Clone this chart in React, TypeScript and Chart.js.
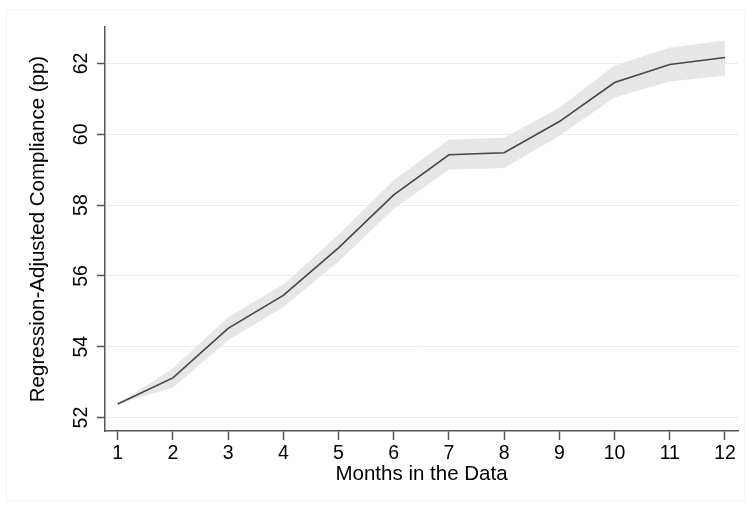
import React, { useEffect, useRef } from "react";
import { Chart, registerables } from "chart.js";

Chart.register(...registerables);

const months = [1, 2, 3, 4, 5, 6, 7, 8, 9, 10, 11, 12];
const estimate = [52.38, 53.12, 54.52, 55.45, 56.79, 58.29, 59.42, 59.48, 60.36, 61.46, 61.97, 62.17];
const upper = [52.38, 53.39, 54.83, 55.76, 57.16, 58.7, 59.85, 59.9, 60.75, 61.94, 62.45, 62.65];
const lower = [52.38, 52.85, 54.18, 55.12, 56.4, 57.9, 59.0, 59.05, 59.96, 61.04, 61.49, 61.66];
const yTicks = [52, 54, 56, 58, 60, 62];

const xTitle = "Months in the Data";
const yTitle = "Regression-Adjusted Compliance (pp)";

const FONT = "'Liberation Sans', Arial, Helvetica, sans-serif";
const AXIS = "#555555";
const GRID = "#e6eef0";

const framePlugin = {
  id: "frame",
  beforeDraw(chart: any) {
    const ctx = chart.ctx;
    ctx.save();
    ctx.fillStyle = "#ffffff";
    ctx.fillRect(0, 0, chart.width, chart.height);
    ctx.strokeStyle = "#f1f3f4";
    ctx.lineWidth = 1;
    ctx.strokeRect(6.5, 9.5, 738, 491);
    ctx.restore();
  },
};

export default function App() {
  const ref = useRef<HTMLCanvasElement | null>(null);

  useEffect(() => {
    if (!ref.current) return;
    const pts = (arr: number[]) => months.map((m, i) => ({ x: m, y: arr[i] }));
    const chart = new Chart(ref.current, {
      type: "line",
      data: {
        datasets: [
          {
            label: "upper",
            data: pts(upper),
            borderWidth: 0,
            borderColor: "rgba(0,0,0,0)",
            backgroundColor: "#e6e6e6",
            pointRadius: 0,
            fill: "+1",
            order: 2,
          },
          {
            label: "lower",
            data: pts(lower),
            borderWidth: 0,
            borderColor: "rgba(0,0,0,0)",
            backgroundColor: "#e6e6e6",
            pointRadius: 0,
            fill: false,
            order: 2,
          },
          {
            label: "estimate",
            data: pts(estimate),
            borderWidth: 1.6,
            borderColor: "#454545",
            pointRadius: 0,
            fill: false,
            tension: 0,
            order: 1,
          },
        ],
      },
      options: {
        animation: false,
        responsive: false,
        devicePixelRatio: 1,
        layout: { padding: { top: 27, right: 10, left: 0, bottom: 0 } },
        plugins: {
          legend: { display: false },
          tooltip: { enabled: false },
        },
        scales: {
          x: {
            type: "linear",
            min: 0.77,
            max: 12.236,
            afterBuildTicks: (scale: any) => {
              scale.ticks = months.map((v) => ({ value: v }));
            },
            afterFit: (scale: any) => {
              scale.height = 75;
            },
            grid: {
              drawOnChartArea: false,
              drawTicks: true,
              tickLength: 9,
              tickColor: AXIS,
              tickWidth: 1.5,
            },
            border: { display: true, color: AXIS, width: 1.5 },
            ticks: {
              autoSkip: false,
              padding: 2,
              color: "#000",
              font: { family: FONT, size: 19.5 },
            },
            title: {
              display: true,
              text: xTitle,
              color: "#000",
              font: { family: FONT, size: 20.5 },
              padding: { top: 0, bottom: 19 },
            },
          },
          y: {
            type: "linear",
            min: 51.62,
            max: 63.03,
            afterBuildTicks: (scale: any) => {
              scale.ticks = yTicks.map((v) => ({ value: v }));
            },
            afterFit: (scale: any) => {
              scale.width = 105;
            },
            grid: {
              drawOnChartArea: true,
              color: GRID,
              lineWidth: 1,
              drawTicks: true,
              tickLength: 8,
              tickColor: AXIS,
              tickWidth: 1.5,
            },
            border: { display: true, color: AXIS, width: 1.5 },
            ticks: {
              autoSkip: false,
              minRotation: 90,
              maxRotation: 90,
              crossAlign: "center",
              padding: 5,
              color: "#000",
              font: { family: FONT, size: 19.5 },
            },
            title: {
              display: true,
              text: yTitle,
              color: "#000",
              font: { family: FONT, size: 20.5 },
              padding: { top: 26, bottom: 0 },
            },
          },
        },
      },
      plugins: [framePlugin],
    } as any);
    return () => chart.destroy();
  }, []);

  return (
    <div style={{ position: "fixed", left: 0, top: 0, width: 748, height: 506, background: "#fff" }}>
      <canvas ref={ref} width={748} height={506} style={{ display: "block", width: 748, height: 506 }} />
    </div>
  );
}
